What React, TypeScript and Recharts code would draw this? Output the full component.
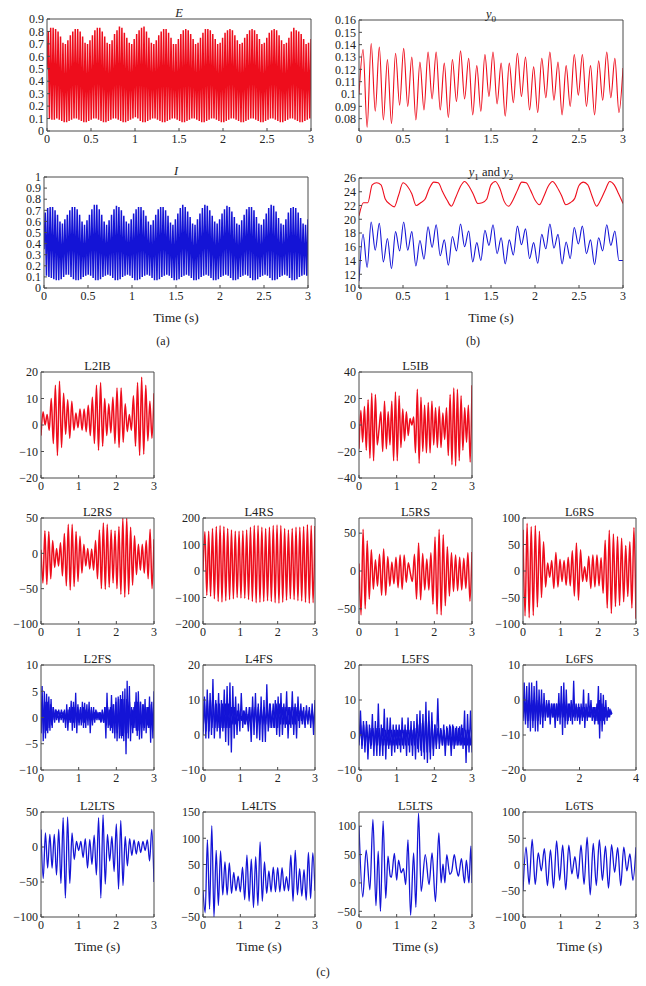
import React from 'react';
import { LineChart, Line, XAxis, YAxis } from 'recharts';

const RED = '#ee0d1c';
const BLUE = '#1414d6';
const INK = '#222';
const FRAME = '#4a4a4a';
const FONT = '"Liberation Serif", serif';

const eHigh = [.80,.83,.83,.82,.80,.76,.71,.70,.73,.77,.80,.82,.82,.80,.76,.71,.70,.73,.77,.81,.83,.83,.80,.76,.71,.70,.73,.78,.81,.84,.83,.79,.75,.71,.70,.74,.78,.81,.83,.84,.80,.75,.71,.70,.73,.77,.80,.82,.82,.79,.75,.70,.70,.74,.78,.81,.82,.81,.78,.74,.70,.71,.75,.79,.82,.82,.81,.78,.74,.70,.71,.75,.79,.81,.82,.81,.77,.73,.70,.71,.75,.78,.81,.82,.81,.78,.74,.70,.71,.75,.79,.81,.82,.81,.77,.73,.70,.71,.75,.80,.83,.81,.80,.78,.74,.70,.71,.74];
const eLow = [.50,.10,.09,.09,.10,.09,.08,.07,.07,.08,.09,.10,.10,.09,.08,.07,.07,.08,.09,.10,.10,.09,.08,.07,.07,.08,.09,.10,.10,.09,.08,.07,.07,.08,.09,.10,.11,.10,.08,.07,.07,.08,.09,.10,.10,.09,.08,.07,.07,.08,.09,.10,.10,.09,.08,.07,.07,.08,.09,.10,.10,.09,.08,.07,.07,.08,.09,.10,.10,.09,.08,.07,.07,.08,.09,.10,.10,.09,.08,.07,.07,.08,.09,.10,.10,.09,.08,.07,.07,.08,.09,.10,.10,.09,.08,.07,.07,.08,.09,.10,.10,.09,.08,.07,.07,.08,.09,.10];
const iHigh = [.68,.72,.73,.73,.70,.66,.60,.58,.62,.66,.70,.73,.73,.71,.66,.60,.57,.61,.66,.71,.75,.75,.71,.66,.60,.57,.61,.66,.71,.74,.73,.70,.65,.60,.58,.62,.67,.71,.73,.73,.70,.65,.60,.57,.61,.66,.71,.73,.73,.70,.65,.59,.57,.62,.67,.72,.75,.73,.69,.64,.58,.57,.62,.67,.72,.75,.74,.70,.65,.60,.58,.62,.67,.71,.74,.73,.69,.64,.58,.57,.61,.66,.71,.73,.73,.70,.64,.58,.57,.62,.67,.72,.75,.74,.69,.63,.58,.57,.62,.68,.72,.73,.72,.68,.63,.58,.57,.62];
const iLow = [.35,.11,.10,.09,.08,.07,.07,.08,.10,.12,.12,.10,.08,.07,.07,.08,.10,.11,.12,.11,.09,.07,.07,.08,.10,.11,.12,.11,.09,.07,.07,.08,.10,.11,.12,.11,.09,.07,.07,.08,.10,.11,.12,.11,.09,.07,.07,.08,.10,.11,.12,.11,.09,.07,.07,.08,.10,.11,.12,.11,.09,.07,.07,.08,.10,.11,.12,.11,.09,.07,.07,.08,.10,.11,.12,.11,.09,.07,.07,.08,.10,.11,.12,.11,.09,.07,.07,.08,.10,.11,.12,.11,.09,.07,.07,.08,.10,.11,.12,.11,.09,.07,.07,.08,.10,.11,.12,.11];

const y0Vals = [.10,.136,.073,.141,.086,.138,.079,.128,.076,.133,.091,.137,.09,.13,.079,.126,.087,.134,.096,.134,.087,.125,.081,.128,.094,.135,.096,.129,.083,.123,.086,.132,.098,.134,.092,.125,.082,.125,.093,.133,.098,.13,.087,.122,.085,.129,.097,.134,.095,.126,.083,.123,.09,.132,.099,.132,.09,.123,.083,.127,.095,.134,.097,.129,.085,.121];
const y1Vals = [20.5,22.4,22.4,25,25.3,25,22.9,22.2,21.8,23.5,25.3,24.8,23.7,22,22.4,22.9,24.5,25.4,25.3,24,22.8,21.9,23.2,24.7,25.5,24.8,23.6,22.3,22.4,22.9,25,25.5,24.5,22.6,21.9,22.8,24.2,25.4,25.3,24.2,22.8,22.1,23.3,24.8,25.5,24.7,23.5,22.1,22.4,23,24.9,25.4,25,23.3,21.9,22.9,24.3,25.5,25,23.7,22.3];
const y2Vals = [11,17.8,13,19.6,15.5,19.4,13.8,17.2,12.8,18.2,15.4,19.6,15.5,18.2,13.2,16.9,14.2,18.9,15.9,19.2,14.7,17,13.3,17.5,15.4,19.3,16,18.3,13.8,16.6,14,18.4,16.2,19.2,15,17.3,13.5,17,14.8,19,16.3,18.6,14.3,16.6,13.6,17.8,15.7,19.3,15.8,17.8,13.5,16.7,14.3,18.8,16.4,19,15,17,13.4,17.3,15.4,19.2,16.2,18.3,14,14];

const l2ib = [-4,5,0,4,-2,10,-7,15,-11.5,16.5,-8.5,12,-3.5,9.5,-5,9,-2,4.5,-1,6,-2,6,-2.5,7.5,-4,10.5,-7,15,-9.5,16,-8,10,-4,8,-3,10.5,-7,14,-8.5,14,-6.5,8,-2.5,4,-2,11,-8,16,-11.5,18,-11,15,-6,9,-5,12];
const l5ib = [-18,11,-13,14,-19,19,-25,24,-27,23,-15,-3,10,-20,18,-18,10,-15,18,-27,25,-27,22,-17,12,-12,10,-8,5,0,6,-21,27,-29,21,-20,15,-21,17,-21,18,-15,13,-17,14,-17,9,-11,13,-23,23,-30,28,-31,27,-27,22,-19,13,-13,15,-28,30];
const l2rs = [5,-42,32,-44,31,-36,18,-20,7,-18,15,-32,28,-46,41,-52,41,-47,31,-40,24,-28,13,-18,7,-22,6,-24,18,-36,33,-50,43,-51,41,-48,33,-42,32,-50,38,-58,50,-62,50,-58,37,-45,25,-30,13,-24,13,-28,18,-36,34,-50,20];
const l4rs = [0,148,-92,150,-95,160,-105,168,-115,172,-117,168,-112,160,-108,155,-105,150,-100,150,-102,152,-103,155,-108,165,-115,172,-120,172,-118,165,-115,160,-112,165,-115,172,-120,174,-122,172,-118,160,-110,155,-105,160,-108,165,-112,165,-113,168,-118,175,-122,172,-120,170];
const l5rs = [10,-58,55,-50,40,-37,28,-24,15,-20,22,-32,29,-32,19,-20,12,-17,18,-22,21,-24,21,-15,11,-3,-14,22,-37,37,-38,23,-25,16,-25,24,-44,45,-57,55,-58,48,-46,32,-33,24,-27,21,-26,18,-25,17,-23,24,-40,25];
const l6rs = [78,-85,90,-88,84,-84,86,-68,75,-50,55,-30,15,-12,20,-33,35,-30,22,-20,20,-27,26,-28,38,-47,53,-55,40,-20,8,-20,28,-33,30,-30,30,-28,25,-42,58,-70,77,-80,70,-67,65,-65,62,-58,48,-48,55,-70,82,-90];

const l2fs = [-3,6,-4.5,5,-4,4.5,-3,4,-2.5,3.5,-2,2,-0.5,1.5,-0.5,1.2,-1,1,-0.5,1,-1,1.5,-2,2.5,-2.5,1.5,-1,3.2,-2.5,3,-2,4.7,-3,2.5,-1.5,1.5,-1.5,3,-2,2.8,-2,2.5,-1.5,3,-3,2,-1.5,2,-1,1.5,-0.5,1,-0.5,1,-0.8,1,-1,2,-4,4.7,-2,1.5,-2.5,4.3,-3,2.5,-4,3.8,-4.5,4,-4,4.3,-4,5,-4.5,5.5,-7,7,-4,6,-4.5,2,-3,2,-2,4.8,-3.5,5,-4.2,3,-4,2.5,-2.5,3.5,-3,2,-2,4,-4.8,3,-4,5];
const l2fsCore = [-3,3,-3,3,-2.5,3,-2,2.5,-1.5,2,-1,1.5,0,1.5,0,1.5,0,1.2,-0.5,1.5,-1,2,-1,2,-1,2,-1,2,-1,2,-1,2,-1,1.5,-0.5,1.5,-0.5,1.5,-0.5,1,0,1,0,1,-1,1.5,-1,2,-1.5,2,-1.5,2,-2,2.5,-3,3,-3,3.5,-3.5,3.5,-3.5,3.5,-3,3.5,-3,3,-1,1.5,-2,3,-2.5,3,-2.5,3,-2,2.5,-2,2,-1.5,2,-2,2.5,-2.5,2.5];
const l4fs = [0,11,-1,13,-1,12,0,16,-1,10,1,12,-1,10,1,13,-2,14,-3,15,-5,14,-1,11,0,9,1,12,2,7,3,6,1,8,-2,11,0,12,-1,9,-1.5,11,-2,10,-2,14.5,1,9,2,7,2,10,0,11,-0.5,12,0,9,2,12.5,-1,8,2,12.5,0,9,-1,11,2,9,3,8,2,8.5,3,8,2,9,0,10];
const l4fsCore = [1,10,1,10,1,10,2,9,2,9,2,9,2,9,2,9,2,9,2,8,3,8,3,7,4,7,4,7,3,8,3,8,3,8,3,8,3,8,3,8,3,8,3,8,2,9,2,9,2,9,2,9,3,8,3,8,3,8,3,8,3,8,3,8,4,7,4,7,3,7,4,7,4,7,3,8];
const l5fs = [-2,7,-4,4,-5,4,-7,3,-4,6,-6,4,-6,9,-6,3,-6,7.5,-7,5,-4,5,-6,3,-5,3,-4,3,-5,5,-4,3,-6,5,-5,4,-6,4,-7,6,-5,7,-6,6,-7,9.5,-8,7,-7,6.5,-6,3,-4,10.5,-4,2,-3,3,-6,2.5,-3,3,-6,3,-4,2,-3,2,-3,3,-4,7,-8,6,-5,7,-5];
const l5fsCore = [-3,3,-3,3,-3,3,-3,2,-3,2,-3,2,-3,2,-3,2,-3,1.5,-3,1.5,-3,1.5,-3,1.5,-3,1.5,-3,1.5,-3,1.5,-3,1.5,-3,1.5,-3,1.5,-3,2,-4,3,-4.5,3.5,-5,4,-5,4,-5,4,-4,3,-3,2,-2.5,1.5,-3,1.5,-3,2,-3,2.5,-3,2.5,-3,2.5,-3,2.5,-3,2,-3,1.5,-3,1.5,-3,1.5];
const l6fs = [-5,5,-7,4,-8,5,-9,5,-8,4,-9,5.5,-9,3,-7,3,-8,2,-6,0,-5,0,-7,-1,-5,-1,-8,-1,-6,2,-7,4,-10,5,-8,3,-7,-1,-5,0,-7,5.5,-6,-1,-6,-1,-7,-1,-6,3,-8,-1,-6,2,-5,0,-6,-2,-7,-2,-6,4,-11,2,-9,1.5,-7,0,-6,-2,-5,-3,-4];
const l6fsCore = [-6,0,-6,0,-6,0,-6,0,-6,0,-6,0,-6,-1,-5,-1,-5,-1,-5,-1,-5,-1,-5,-1,-5,-1,-5,-1,-5,-1,-5,-1,-5,-1,-6,-1,-6,-1,-6,-1,-5,-1,-5,-2,-5,-2,-5,-2,-5,-2,-5,-2,-5,-2,-5,-2,-5,-2,-6,-1,-7,0,-6,-1,-6,-2,-5,-3,-5,-3,-4,-4];

const l2lts = [25,-45,20,-30,18,-30,18,-40,25,-52,42,-73,43,-52,20,-18,8,-5,8,-15,12,-30,11,-25,17,-40,42,-73,46,-53,18,-20,15,-35,33,-60,38,-55,15,-27,12,-12,10,-10,8,-8,8,-5,10,-20,25,-50];
const l4lts = [0,-42,97,-35,124,-50,77,-28,76,-8,55,-8,53,-5,35,0,28,-2,45,-17,68,-20,60,-32,65,-28,93,-20,55,-5,38,-2,45,-2,44,-2,44,0,27,0,68,-20,77,-8,42,-10,40,-18,73,-15,72,0];
const l5ltsT = [0,.1,.19,.29,.37,.45,.51,.57,.64,.71,.77,.83,.86,.94,1,1.05,1.12,1.18,1.24,1.3,1.37,1.45,1.51,1.58,1.65,1.76,1.86,1.94,2.03,2.12,2.18,2.23,2.28,2.33,2.41,2.46,2.53,2.59,2.64,2.72,2.8,2.85,2.92,2.97,3];
const l5ltsV = [100,-25,58,-12,112,-40,56,-50,109,-27,47,12,10,52,5,40,18,25,-3,76,-57,53,-43,123,-15,50,-3,53,-33,88,0,33,0,50,15,20,50,25,12,43,0,40,0,65,0];
const l6ts = [-50,33,-38,48,-38,22,-12,30,-40,28,-45,45,-30,37,-48,37,-18,15,-27,37,-38,52,-58,40,-40,47,-30,35,-45,38,-15,32,-40,33,-12,20,-30,33];

const xHalf = [0, 0.5, 1, 1.5, 2, 2.5, 3];
const xOne = [0, 1, 2, 3];
const xFour = [0, 2, 4];

const zip = (a: number[], b: number[]) => a.flatMap((v, i) => [v, b[i]]);
const toPts = (vals: number[], end = 3, times?: number[]) =>
  vals.map((v, i) => ({ t: times ? times[i] : (i * end) / (vals.length - 1), v }));
const minus = (v: number) => String(v).replace('-', '\u2212');

type Ser = { pts: { t: number; v: number }[]; color: string; curve?: 'linear' | 'monotone'; w?: number };
type PanelProps = {
  box: number[];
  title: React.ReactNode;
  xDomain?: number[];
  xTicks: number[];
  yDomain: number[];
  yTicks: number[];
  series: Ser[];
  time?: boolean;
};

const PAD_L = 44;
const PAD_T = 14;
const PAD_R = 14;
const PAD_B = 22;

function Panel({ box, title, xDomain = [0, 3], xTicks, yDomain, yTicks, series, time }: PanelProps) {
  const [x0, y0, x1, y1] = box;
  const W = x1 - x0;
  const H = y1 - y0;
  const tick = { fontFamily: FONT, fontSize: 12, fill: INK };
  const blank = () => '';
  const line = { stroke: FRAME, strokeWidth: 1 };
  return (
    <div style={{ position: 'absolute', left: x0 - PAD_L, top: y0 - PAD_T, width: W + PAD_L + PAD_R, height: H + PAD_T + PAD_B }}>
      <LineChart
        width={W + PAD_L + PAD_R}
        height={H + PAD_T + PAD_B}
        margin={{ top: PAD_T - 1, right: PAD_R - 1, bottom: 0, left: 0 }}
      >
        <XAxis xAxisId="b" dataKey="t" type="number" domain={xDomain} ticks={xTicks} interval={0} height={PAD_B} allowDataOverflow
          tickSize={-3} tickMargin={6} axisLine={line} tickLine={line} tick={tick} />
        <XAxis xAxisId="t" dataKey="t" type="number" orientation="top" domain={xDomain} ticks={xTicks} interval={0} height={1} allowDataOverflow
          tickSize={-3} tickMargin={0} axisLine={line} tickLine={line} tick={false} tickFormatter={blank} />
        <YAxis yAxisId="l" type="number" domain={yDomain} ticks={yTicks} interval={0} width={PAD_L} allowDataOverflow
          tickSize={-3} tickMargin={6} axisLine={line} tickLine={line} tick={tick} tickFormatter={minus} />
        <YAxis yAxisId="r" type="number" orientation="right" domain={yDomain} ticks={yTicks} interval={0} width={1} allowDataOverflow
          tickSize={-3} tickMargin={0} axisLine={line} tickLine={line} tick={false} tickFormatter={blank} />
        {series.map((s, i) => (
          <Line key={i} xAxisId="b" yAxisId="l" data={s.pts} dataKey="v" type={s.curve ?? 'monotone'} stroke={s.color}
            strokeWidth={s.w ?? 1.5} dot={false} activeDot={false} isAnimationActive={false} />
        ))}
      </LineChart>
      <div style={{ position: 'absolute', left: PAD_L, width: W, top: PAD_T - 13, textAlign: 'center', fontFamily: FONT, fontSize: 12.5, lineHeight: '15px', color: INK, whiteSpace: 'nowrap' }}>{title}</div>
      {time && (
        <div style={{ position: 'absolute', left: PAD_L, width: W, top: H + PAD_T + 22, textAlign: 'center', fontFamily: FONT, fontSize: 13.5, lineHeight: '15px', color: INK, whiteSpace: 'nowrap' }}>Time (s)</div>
      )}
    </div>
  );
}

const Sub = ({ c }: { c: string }) => <sub style={{ fontSize: 9, lineHeight: 0, fontStyle: 'normal' }}>{c}</sub>;
const I = ({ c }: { c: string }) => <i>{c}</i>;

const caption = (txt: string, x: number, y: number) => (
  <div style={{ position: 'absolute', left: x - 20, width: 40, top: y, textAlign: 'center', fontFamily: FONT, fontSize: 12, lineHeight: '14px', color: INK }}>{txt}</div>
);

const range = (a: number, b: number, s: number) => {
  const out: number[] = [];
  for (let v = a; v <= b + 1e-9; v += s) out.push(Math.round(v * 100) / 100);
  return out;
};

const colA = [41, 154];
const colB = [203, 315];
const colC = [359, 472];
const colD = [523, 636];
const row1 = [372, 478];
const row2 = [518, 624];
const row3 = [665, 770];
const row4 = [812, 917];
const bx = (c: number[], r: number[]) => [c[0], r[0], c[1], r[1]];

export default function App() {
  const r = (vals: number[], end = 3, w = 1.5) => [{ pts: toPts(vals, end), color: RED, w }];
  const b = (vals: number[], end = 3, w = 1.3) => [{ pts: toPts(vals, end), color: BLUE, w }];
  const noisy = (core: number[], vals: number[], end = 3) => [
    { pts: toPts(core, end), color: BLUE, curve: 'linear' as const, w: 1.3 },
    { pts: toPts(vals, end), color: BLUE, curve: 'linear' as const, w: 1.3 },
  ];
  return (
    <div style={{ position: 'absolute', left: 0, top: 0, width: 646, height: 986, background: '#fff', overflow: 'hidden' }}>
      <Panel box={[47, 19, 311, 131]} title={<I c="E" />} xTicks={xHalf} yDomain={[0, 0.9]} yTicks={range(0, 0.9, 0.1)}
        series={[{ pts: toPts(zip(eLow, eHigh)), color: RED, curve: 'linear', w: 1.5 }]} />
      <Panel box={[44, 177, 308, 288]} title={<I c="I" />} xTicks={xHalf} yDomain={[0, 1]} yTicks={range(0, 1, 0.1)} time
        series={[{ pts: toPts(zip(iLow, iHigh)), color: BLUE, curve: 'linear', w: 1.5 }]} />
      <Panel box={[359, 20, 623, 131]} title={<><I c="y" /><Sub c="0" /></>} xTicks={xHalf} yDomain={[0.07, 0.16]} yTicks={range(0.08, 0.16, 0.01)} series={r(y0Vals, 3, 1.1)} />
      <Panel box={[359, 178, 623, 288]} title={<><I c="y" /><Sub c="1" /> and <I c="y" /><Sub c="2" /></>} xTicks={xHalf} yDomain={[10, 26]} yTicks={range(10, 26, 2)} time
        series={[{ pts: toPts(y1Vals), color: RED, w: 1.1 }, { pts: toPts(y2Vals), color: BLUE, w: 1.1 }]} />
      {caption('(a)', 163, 334)}
      {caption('(b)', 473, 334)}

      <Panel box={bx(colA, row1)} title="L2IB" xTicks={xOne} yDomain={[-20, 20]} yTicks={range(-20, 20, 10)} series={r(l2ib)} />
      <Panel box={bx(colC, row1)} title="L5IB" xTicks={xOne} yDomain={[-40, 40]} yTicks={range(-40, 40, 20)} series={r(l5ib)} />

      <Panel box={bx(colA, row2)} title="L2RS" xTicks={xOne} yDomain={[-100, 50]} yTicks={range(-100, 50, 50)} series={r(l2rs)} />
      <Panel box={bx(colB, row2)} title="L4RS" xTicks={xOne} yDomain={[-200, 200]} yTicks={range(-200, 200, 100)} series={r(l4rs)} />
      <Panel box={bx(colC, row2)} title="L5RS" xTicks={xOne} yDomain={[-70, 70]} yTicks={[-50, 0, 50]} series={r(l5rs)} />
      <Panel box={bx(colD, row2)} title="L6RS" xTicks={xOne} yDomain={[-100, 100]} yTicks={range(-100, 100, 50)} series={r(l6rs)} />

      <Panel box={bx(colA, row3)} title="L2FS" xTicks={xOne} yDomain={[-10, 10]} yTicks={range(-10, 10, 5)} series={noisy(l2fsCore, l2fs)} />
      <Panel box={bx(colB, row3)} title="L4FS" xTicks={xOne} yDomain={[-10, 20]} yTicks={range(-10, 20, 10)} series={noisy(l4fsCore, l4fs)} />
      <Panel box={bx(colC, row3)} title="L5FS" xTicks={xOne} yDomain={[-10, 20]} yTicks={range(-10, 20, 10)} series={noisy(l5fsCore, l5fs)} />
      <Panel box={bx(colD, row3)} title="L6FS" xDomain={[0, 4]} xTicks={xFour} yDomain={[-20, 10]} yTicks={range(-20, 10, 10)} series={noisy(l6fsCore, l6fs, 3.15)} />

      <Panel box={bx(colA, row4)} title="L2LTS" xTicks={xOne} yDomain={[-100, 50]} yTicks={range(-100, 50, 50)} series={b(l2lts)} time />
      <Panel box={bx(colB, row4)} title="L4LTS" xTicks={xOne} yDomain={[-50, 150]} yTicks={range(-50, 150, 50)} series={b(l4lts)} time />
      <Panel box={bx(colC, row4)} title="L5LTS" xTicks={xOne} yDomain={[-60, 125]} yTicks={[-50, 0, 50, 100]} time
        series={[{ pts: toPts(l5ltsV, 3, l5ltsT), color: BLUE, w: 1.3 }]} />
      <Panel box={bx(colD, row4)} title="L6TS" xTicks={xOne} yDomain={[-100, 100]} yTicks={range(-100, 100, 50)} series={b(l6ts)} time />
      {caption('(c)', 323, 965)}
    </div>
  );
}
